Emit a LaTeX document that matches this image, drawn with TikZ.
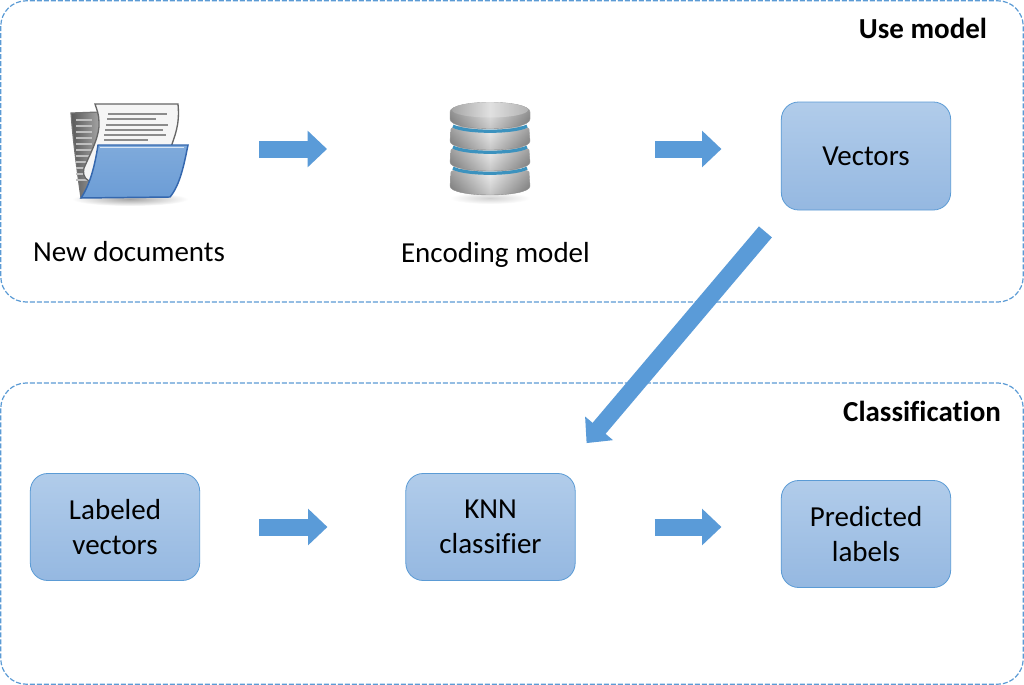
\documentclass[tikz,border=0pt]{standalone}
\usepackage{fontspec}
\setmainfont{Carlito}[Ligatures={NoCommon}]
\usetikzlibrary{arrows.meta,calc}
\definecolor{edgeblue}{HTML}{5B9BD5}
\definecolor{arrowblue}{HTML}{5A9BD8}
\definecolor{boxtop}{HTML}{B1CCEA}
\definecolor{boxbot}{HTML}{95B8E1}
\definecolor{foldertop}{HTML}{7FAADB}
\definecolor{folderbot}{HTML}{6C9DD6}
\definecolor{folderedge}{HTML}{3467AE}
\definecolor{ringblue}{HTML}{3C92BE}
\tikzset{
  panel/.style={draw=edgeblue,dash pattern=on 3.75pt off 1.5pt,line width=0.9pt,rounded corners=19pt},
  stepbox/.style={draw=edgeblue,line width=0.6pt,rounded corners=13pt,top color=boxtop,bottom color=boxbot,
    minimum width=127pt,align=center,inner sep=0pt,font=\fontsize{21.75pt}{26pt}\selectfont},
  caption/.style={font=\fontsize{21.75pt}{24pt}\selectfont,inner sep=0pt,anchor=base},
  heading/.style={font=\fontsize{21.75pt}{24pt}\selectfont\bfseries,inner sep=0pt,anchor=base},
  icon/.style={inner sep=0pt,minimum width=1pt,minimum height=1pt},
  blockarrow/.style={draw=arrowblue,line width=12.75pt,-{Triangle[length=14.5pt,width=26.5pt,fill=arrowblue]}},
  metal/.style={left color=black!50,right color=black!50,middle color=white!95!black},
}
\newcommand{\discpath}[2]{(451,#1) .. controls (451,#1-5) and (529,#1-5) .. (529,#1)
    -- (530,#2-9) .. controls (530,#2+3) and (450,#2+3) .. (450,#2-9) -- cycle}
\begin{document}
\begin{tikzpicture}[x=0.75pt,y=-0.75pt]
\useasboundingbox (0,0) rectangle (1024,685);
\fill[white] (0,0) rectangle (1024,685);
% panels
\draw[panel] (0.8,0.8) rectangle (1023.2,302);
\draw[panel] (0.8,383) rectangle (1023.2,684.2);
\node[heading] (usemodel) at (923,39) {Use model};
\node[heading] (classif) at (922,421.5) {Classification};
% boxes
\node[stepbox,minimum height=81pt] (vectors) at (866,156) {Vectors};
\node[stepbox,minimum height=80.25pt] (labeled) at (115,527) {Labeled\\vectors};
\node[stepbox,minimum height=80.25pt] (knn) at (490.5,527) {KNN\\classifier};
\node[stepbox,minimum height=80.25pt] (predicted) at (866,534) {Predicted\\labels};
% folder icon
\shade[inner color=black!35,outer color=white] (130,199) ellipse (58 and 7);
\draw[black!55,line width=0.9pt,left color=black!65,right color=black!35]
  (71,113) -- (100,112) -- (100,190) -- (81,198) .. controls (77,170) and (73,140) .. (71,113) -- cycle;
\foreach \yy in {120,126,132,138,144,150,156,162,168,174,180}{\draw[white!75!black,line width=0.8pt] (76,\yy) -- (92,\yy);}
\draw[black!60,line width=1pt,fill=white!96!black]
  (95,104) -- (178,104) .. controls (180,125) and (175,135) .. (170,150)
  -- (98,180) -- (89,181) .. controls (83,178) and (83,172) .. (84,168)
  .. controls (92,150) and (100,135) .. (99,122) .. controls (99,115) and (97,110) .. (95,104) -- cycle;
\foreach \ya/\xa/\xb in {114/108/167,119/107/156,125/106/168,130/105/163,135/104/166,140/104/148}
  {\draw[black!45,line width=1pt] (\xa,\ya) -- (\xb,\ya);}
\draw[folderedge,line width=1.1pt,top color=foldertop,bottom color=folderbot]
  (98,145) -- (188,145) .. controls (184,165) and (180,185) .. (170,197)
  -- (81,198) .. controls (90,185) and (95,165) .. (98,145) -- cycle;
\draw[white!70!foldertop,line width=0.8pt] (99.5,147.5) -- (184,147.5);
\node[icon] (docs) at (130,149) {};
% database icon
\shade[inner color=black!18,outer color=white] (490,198) ellipse (40 and 6);
\draw[black!40,line width=0.3pt,metal] \discpath{172}{195};
\shade[opacity=0.3,top color=white,bottom color=black!70] \discpath{172}{195};
\foreach \yt/\yb in {150/173,129/152}{
  \draw[ringblue,line width=2.4pt] (453,\yb-5) .. controls (465,\yb+2) and (515,\yb+2) .. (527,\yb-5);
  \draw[black!40,line width=0.3pt,metal] \discpath{\yt}{\yb-2};
  \shade[opacity=0.3,top color=white,bottom color=black!70] \discpath{\yt}{\yb-2};
}
\draw[ringblue,line width=2.4pt] (453,126) .. controls (465,133) and (515,133) .. (527,126);
\draw[black!40,line width=0.3pt,metal]
  (450,112) .. controls (450,99) and (530,99) .. (530,112)
  -- (530,119) .. controls (530,132) and (450,132) .. (450,119) -- cycle;
\shade[opacity=0.3,top color=white,bottom color=black!70]
  (450,112) .. controls (450,99) and (530,99) .. (530,112)
  -- (530,119) .. controls (530,132) and (450,132) .. (450,119) -- cycle;
\shade[left color=black!35,right color=black!30,middle color=black!12] (490,110) ellipse (38 and 7.5);
\node[icon] (model) at (490,149) {};
% captions
\node[caption] (newdocs) at (129,261) {New documents};
\node[caption] (encoding) at (495.5,262) {Encoding model};
% connectors
\draw[blockarrow] ([shift={(129,0)}]docs.center) -- ([shift={(-163,0)}]model.center);
\draw[blockarrow] ([shift={(165,0)}]model.center) -- ([shift={(-59.5,-7)}]vectors.west);
\draw[blockarrow] ([shift={(-15.5,21.5)}]vectors.south west) -- ([shift={(11,-30)}]knn.north east);
\draw[blockarrow] ([shift={(59,0)}]labeled.east) -- ([shift={(-78,0)}]knn.west);
\draw[blockarrow] ([shift={(79,0)}]knn.east) -- ([shift={(-59.5,-7)}]predicted.west);
\end{tikzpicture}
\end{document}
